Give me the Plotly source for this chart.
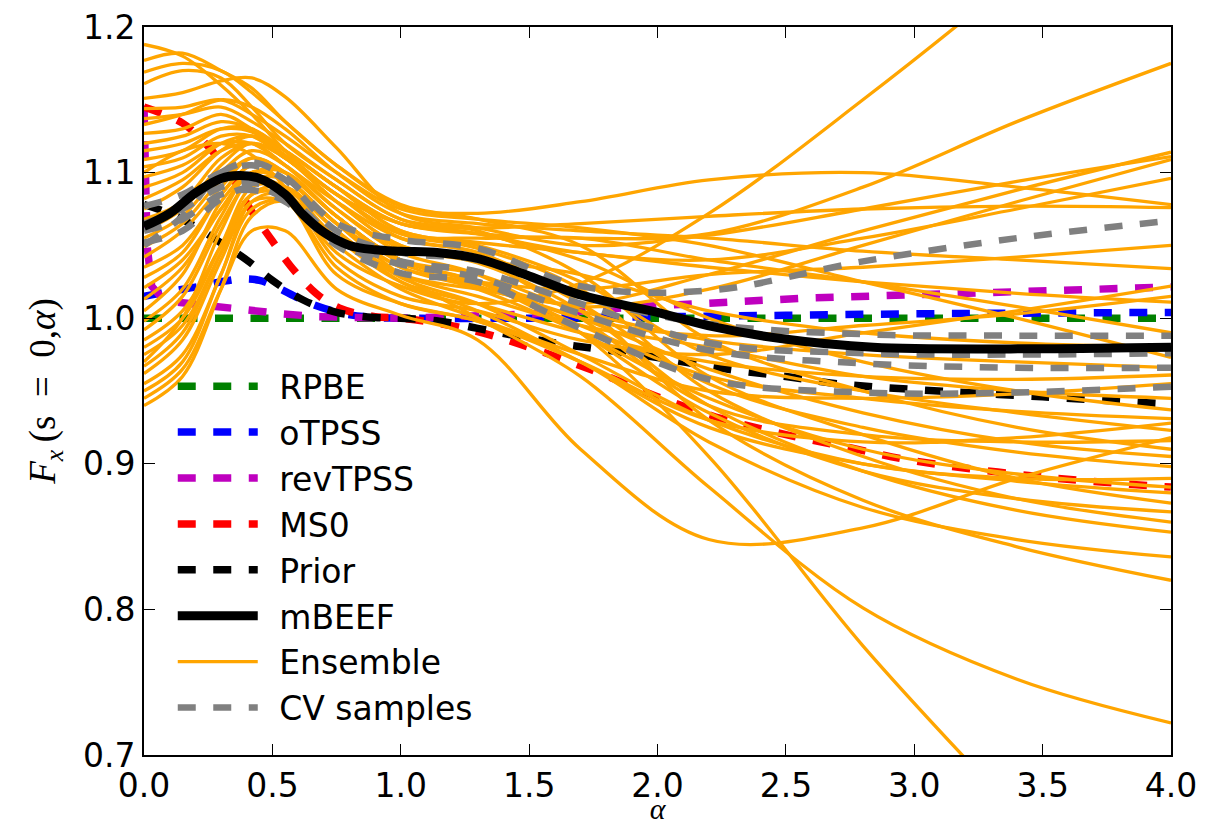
import plotly.graph_objects as go

# ---------------- data ----------------
alpha_grid = [0, 0.15, 0.3, 0.42, 0.55, 0.75, 1.0, 1.3, 1.7, 2.2, 2.8, 3.4, 4.0]

ens_01 = [1.100, 1.115, 1.120, 1.112, 1.090, 1.045, 1.022, 1.010, 1.024, 1.072, 1.150, 1.235, 1.330]
ens_02 = [1.188, 1.180, 1.160, 1.140, 1.115, 1.085, 1.065, 1.058, 1.055, 1.058, 1.090, 1.135, 1.175]
ens_03 = [1.177, 1.182, 1.170, 1.158, 1.135, 1.105, 1.077, 1.072, 1.080, 1.095, 1.100, 1.090, 1.078]
ens_04 = [0.970, 1.000, 1.060, 1.095, 1.090, 1.055, 1.030, 1.020, 1.010, 1.030, 1.060, 1.088, 1.114]
ens_05 = [1.151, 1.155, 1.163, 1.165, 1.152, 1.117, 1.072, 1.062, 1.050, 1.057, 1.075, 1.094, 1.111]
ens_06 = [1.042, 1.060, 1.090, 1.110, 1.100, 1.070, 1.040, 1.025, 1.008, 1.020, 1.050, 1.080, 1.109]
ens_07 = [1.161, 1.170, 1.165, 1.145, 1.120, 1.095, 1.068, 1.058, 1.045, 1.040, 1.055, 1.075, 1.096]
ens_08 = [1.075, 1.090, 1.115, 1.125, 1.115, 1.090, 1.065, 1.062, 1.065, 1.070, 1.075, 1.077, 1.076]
ens_09 = [1.133, 1.140, 1.150, 1.145, 1.130, 1.100, 1.072, 1.065, 1.060, 1.055, 1.046, 1.040, 1.034]
ens_10 = [0.955, 0.975, 1.030, 1.080, 1.085, 1.040, 1.015, 1.005, 0.985, 0.975, 0.990, 1.005, 1.022]
ens_11 = [1.021, 1.040, 1.075, 1.100, 1.100, 1.070, 1.040, 1.025, 1.000, 0.988, 0.995, 1.003, 1.015]
ens_12 = [1.127, 1.130, 1.140, 1.130, 1.115, 1.090, 1.060, 1.052, 1.045, 1.035, 1.025, 1.017, 1.011]
ens_13 = [1.090, 1.100, 1.120, 1.125, 1.110, 1.085, 1.058, 1.055, 1.055, 1.040, 1.025, 1.008, 0.990]
ens_14 = [1.144, 1.145, 1.150, 1.140, 1.125, 1.100, 1.075, 1.068, 1.062, 1.050, 1.025, 1.000, 0.973]
ens_15 = [1.005, 1.030, 1.080, 1.100, 1.095, 1.065, 1.040, 1.030, 1.005, 0.985, 0.975, 0.970, 0.966]
ens_16 = [0.985, 1.005, 1.050, 1.085, 1.085, 1.055, 1.025, 1.010, 0.990, 0.970, 0.960, 0.958, 0.961]
ens_17 = [0.962, 0.985, 1.040, 1.080, 1.080, 1.050, 1.020, 1.000, 0.975, 0.950, 0.945, 0.948, 0.955]
ens_18 = [1.109, 1.115, 1.130, 1.130, 1.115, 1.090, 1.065, 1.058, 1.040, 1.000, 0.970, 0.950, 0.937]
ens_19 = [1.035, 1.050, 1.085, 1.105, 1.100, 1.070, 1.040, 1.025, 0.995, 0.960, 0.945, 0.936, 0.931]
ens_20 = [0.940, 0.960, 1.020, 1.070, 1.080, 1.035, 1.010, 0.998, 0.970, 0.930, 0.915, 0.918, 0.928]
ens_21 = [1.120, 1.125, 1.135, 1.130, 1.115, 1.090, 1.060, 1.050, 1.025, 0.975, 0.950, 0.935, 0.923]
ens_22 = [0.945, 0.965, 1.020, 1.060, 1.060, 1.020, 1.002, 0.985, 0.910, 0.848, 0.856, 0.890, 0.918]
ens_23 = [1.068, 1.080, 1.110, 1.120, 1.110, 1.080, 1.050, 1.040, 1.000, 0.940, 0.920, 0.915, 0.916]
ens_24 = [1.097, 1.105, 1.120, 1.120, 1.105, 1.080, 1.055, 1.045, 1.010, 0.955, 0.925, 0.908, 0.898]
ens_25 = [0.998, 1.020, 1.070, 1.100, 1.095, 1.065, 1.035, 1.020, 0.990, 0.945, 0.910, 0.893, 0.884]
ens_26 = [0.975, 0.995, 1.045, 1.085, 1.090, 1.060, 1.025, 1.005, 0.970, 0.925, 0.900, 0.888, 0.880]
ens_27 = [1.137, 1.140, 1.145, 1.135, 1.120, 1.095, 1.068, 1.060, 1.030, 0.960, 0.920, 0.890, 0.873]
ens_28 = [1.049, 1.065, 1.095, 1.110, 1.100, 1.070, 1.040, 1.025, 0.990, 0.935, 0.895, 0.876, 0.867]
ens_29 = [1.082, 1.095, 1.115, 1.120, 1.105, 1.075, 1.048, 1.038, 1.005, 0.940, 0.895, 0.868, 0.853]
ens_30 = [0.950, 0.970, 1.030, 1.075, 1.080, 1.030, 1.010, 0.998, 0.970, 0.915, 0.870, 0.848, 0.836]
ens_31 = [1.104, 1.110, 1.125, 1.125, 1.110, 1.085, 1.055, 1.045, 1.010, 0.930, 0.875, 0.843, 0.820]
ens_32 = [1.013, 1.035, 1.075, 1.100, 1.095, 1.065, 1.030, 1.000, 0.960, 0.884, 0.801, 0.752, 0.722]
ens_33 = [1.055, 1.070, 1.100, 1.115, 1.105, 1.075, 1.045, 1.030, 0.990, 0.905, 0.775, 0.660, 0.550]
ens_34 = [0.967, 0.990, 1.045, 1.085, 1.090, 1.060, 1.030, 1.015, 0.995, 0.980, 0.960, 0.950, 0.945]
ens_35 = [1.028, 1.045, 1.085, 1.105, 1.100, 1.070, 1.038, 1.022, 1.000, 0.965, 0.935, 0.915, 0.905]
ens_36 = [0.980, 1.000, 1.050, 1.090, 1.090, 1.060, 1.028, 1.010, 0.975, 0.930, 0.900, 0.890, 0.890]
ens_37 = [1.115, 1.120, 1.130, 1.128, 1.112, 1.085, 1.058, 1.048, 1.020, 0.950, 0.905, 0.876, 0.860]
ens_38 = [0.992, 1.015, 1.065, 1.095, 1.095, 1.065, 1.035, 1.025, 1.020, 1.030, 1.035, 1.042, 1.050]
ens_39 = [1.060, 1.075, 1.105, 1.120, 1.110, 1.080, 1.050, 1.040, 1.030, 1.005, 0.990, 0.983, 0.980]
ens_40 = [1.169, 1.175, 1.170, 1.155, 1.135, 1.105, 1.078, 1.068, 1.050, 0.985, 0.950, 0.925, 0.910]

cv_1 = [1.050, 1.070, 1.100, 1.107, 1.097, 1.065, 1.054, 1.048, 1.022, 1.019, 1.039, 1.055, 1.067]
cv_2 = [1.077, 1.085, 1.100, 1.105, 1.095, 1.060, 1.045, 1.040, 1.015, 0.996, 0.989, 0.988, 0.988]
cv_3 = [1.065, 1.075, 1.090, 1.093, 1.085, 1.055, 1.039, 1.032, 1.010, 0.983, 0.976, 0.975, 0.976]
cv_4 = [1.052, 1.060, 1.082, 1.090, 1.082, 1.052, 1.037, 1.028, 1.003, 0.978, 0.969, 0.966, 0.966]
cv_5 = [1.060, 1.068, 1.085, 1.088, 1.080, 1.050, 1.031, 1.025, 0.993, 0.958, 0.949, 0.949, 0.953]

rpbe_alpha = [0, 4]
rpbe = [1.0, 1.0]

otpss_alpha = [0, 0.09, 0.22, 0.3, 0.38, 0.45, 0.52, 0.6, 0.68, 0.78, 0.9, 1.0, 1.5, 2.0, 2.5, 3.0, 3.5, 4.0]
otpss = [1.015, 1.018, 1.022, 1.025, 1.027, 1.026, 1.021, 1.014, 1.008, 1.003, 1.0005, 1.0, 1.0, 1.001, 1.002, 1.003, 1.0035, 1.004]

revtpss_alpha = [0, 0.004, 0.012, 0.03, 0.07, 0.13, 0.27, 0.41, 0.54, 0.68, 0.85, 1.0, 1.1, 1.3,
                 1.52, 1.75, 1.93, 2.22, 2.6, 3.18, 3.6, 4.0]
revtpss = [1.146, 1.10, 1.05, 1.022, 1.014, 1.011, 1.008, 1.0055, 1.003, 1.001, 1.0002, 1.0, 1.0005, 1.0015,
           1.003, 1.0055, 1.008, 1.0105, 1.014, 1.017, 1.019, 1.0215]

ms0_alpha = [0, 0.15, 0.25, 0.35, 0.41, 0.5, 0.57, 0.67, 0.76, 0.9, 1.0, 1.25, 1.5, 1.75, 2.0,
             2.25, 2.5, 2.75, 3.0, 3.5, 4.0]
ms0 = [1.145, 1.134, 1.118, 1.095, 1.076, 1.053, 1.036, 1.017, 1.007, 1.001, 1.0, 0.993, 0.98, 0.964, 0.946,
       0.931, 0.92, 0.911, 0.902, 0.891, 0.884]

prior_alpha = [0, 0.1, 0.2, 0.28, 0.4, 0.5, 0.62, 0.75, 0.9, 1.0, 1.15, 1.3, 1.6, 1.85, 2.0, 2.27, 2.5,
               2.7, 3.0, 3.5, 4.0]
prior = [1.078, 1.072, 1.063, 1.054, 1.04, 1.026, 1.0125, 1.004, 1.0005, 1.0, 0.998, 0.993, 0.983, 0.977,
         0.973, 0.965, 0.96, 0.955, 0.951, 0.946, 0.941]

mbeef_alpha = [0, 0.1, 0.2, 0.3, 0.37, 0.45, 0.55, 0.62, 0.7, 0.8, 0.9, 1.0, 1.15, 1.3, 1.5, 1.7, 2.0,
               2.22, 2.48, 2.84, 3.5, 4.0]
mbeef = [1.063, 1.072, 1.086, 1.096, 1.098, 1.096, 1.085, 1.071, 1.059, 1.05, 1.047, 1.046, 1.045, 1.041,
         1.029, 1.016, 1.004, 0.994, 0.986, 0.98, 0.979, 0.98]

x_ticks = [0, 0.5, 1.0, 1.5, 2.0, 2.5, 3.0, 3.5, 4.0]
y_ticks = [0.7, 0.8, 0.9, 1.0, 1.1, 1.2]

ensemble = [ens_01, ens_02, ens_03, ens_04, ens_05, ens_06, ens_07, ens_08, ens_09, ens_10,
            ens_11, ens_12, ens_13, ens_14, ens_15, ens_16, ens_17, ens_18, ens_19, ens_20,
            ens_21, ens_22, ens_23, ens_24, ens_25, ens_26, ens_27, ens_28, ens_29, ens_30,
            ens_31, ens_32, ens_33, ens_34, ens_35, ens_36, ens_37, ens_38, ens_39, ens_40]
cv_samples = [cv_1, cv_2, cv_3, cv_4, cv_5]

# ---------------- figure ----------------
DASH = "18px,17.5px"
SP = "\u2002"
fig = go.Figure()

functionals = [
    ("RPBE", rpbe_alpha, rpbe, "#008000", 1, "linear"),
    ("oTPSS", otpss_alpha, otpss, "#0000FF", 2, "spline"),
    ("revTPSS", revtpss_alpha, revtpss, "#BF00BF", 3, "linear"),
    ("MS0", ms0_alpha, ms0, "#FF0000", 4, "spline"),
    ("Prior", prior_alpha, prior, "#000000", 5, "spline"),
]
for name, xs, ys, col, rank, shape in functionals:
    fig.add_trace(go.Scatter(x=xs, y=ys, mode="lines", name=SP + name, legendrank=rank,
                             line=dict(color=col, width=7.5, dash=DASH, shape=shape)))

for i, ys in enumerate(ensemble):
    fig.add_trace(go.Scatter(x=alpha_grid, y=ys, mode="lines", name=SP + "Ensemble",
                             legendgroup="ens", showlegend=(i == 0), legendrank=7,
                             line=dict(color="#FFA500", width=3.3, shape="spline")))

for i, ys in enumerate(cv_samples):
    fig.add_trace(go.Scatter(x=alpha_grid, y=ys, mode="lines", name=SP + "CV samples",
                             legendgroup="cv", showlegend=(i == 0), legendrank=8,
                             line=dict(color="#808080", width=6.5, dash=DASH, shape="spline")))

fig.add_trace(go.Scatter(x=mbeef_alpha, y=mbeef, mode="lines", name=SP + "mBEEF", legendrank=6,
                         line=dict(color="#000000", width=9, shape="spline")))

axis_common = dict(showgrid=False, zeroline=False, showline=True, linecolor="black", linewidth=2,
                   mirror="ticks", ticks="inside", ticklen=11, tickwidth=1.2, tickcolor="black",
                   automargin=False,
                   tickfont=dict(family="DejaVu Sans", size=33, color="black"))

fig.update_layout(
    width=1227, height=825,
    margin=dict(l=144, r=56, t=27, b=70),
    plot_bgcolor="white", paper_bgcolor="white",
    xaxis=dict(range=[0, 4], tickvals=x_ticks, ticktext=[f"{v:.1f}" for v in x_ticks],
               title=dict(text="<i>α</i>", font=dict(family="Liberation Serif", size=30, color="black"),
                          standoff=7),
               **axis_common),
    yaxis=dict(range=[0.7, 1.2], tickvals=y_ticks, ticktext=[f"{v:.1f}" for v in y_ticks],
               title=dict(text="<i>F</i><sub><i>x</i></sub>\u2009(s\u2002=\u20020,<i>α</i>)",
                          font=dict(family="Liberation Serif", size=37, color="black"), standoff=16),
               **axis_common),
    legend=dict(x=0.028, y=0.545, xanchor="left", yanchor="top", bgcolor="rgba(0,0,0,0)",
                font=dict(family="DejaVu Sans", size=33, color="black"), itemwidth=80,
                tracegroupgap=0, traceorder="normal"),
    showlegend=True,
)

fig.write_html("out.html")
